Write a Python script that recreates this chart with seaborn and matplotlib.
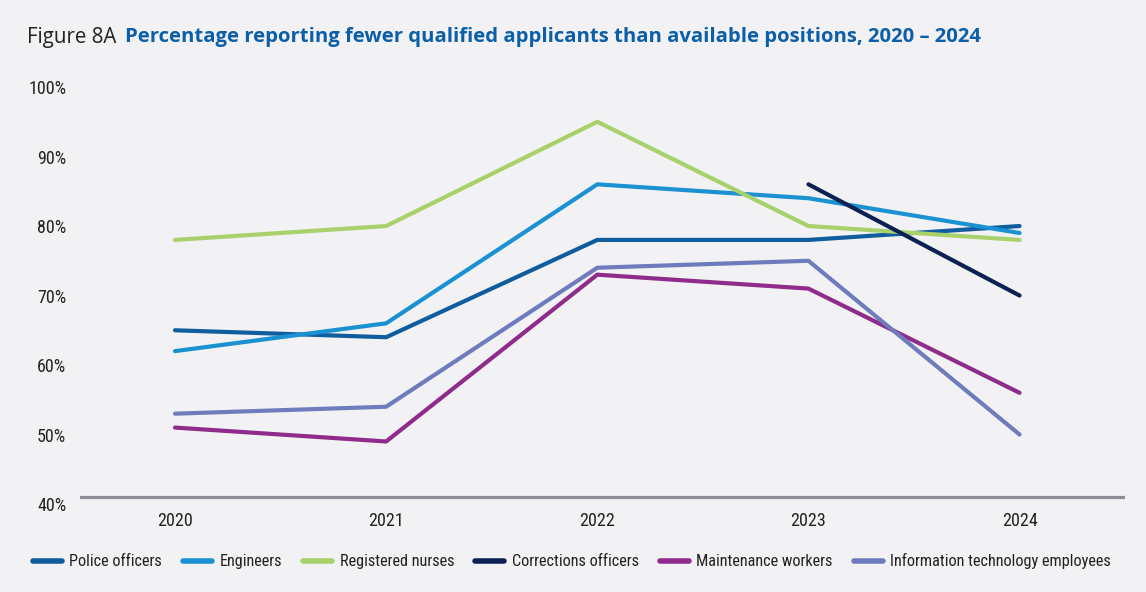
import numpy as np
import pandas as pd
import seaborn as sns
import matplotlib
matplotlib.use('Agg')
import matplotlib.pyplot as plt
from matplotlib import font_manager

# data (percent)
years       = [2020, 2021, 2022, 2023, 2024]
police      = [65, 64, 78, 78, 80]
engineers   = [62, 66, 86, 84, 79]
nurses      = [78, 80, 95, 80, 78]
corrections = [np.nan, np.nan, np.nan, 86, 70]
maintenance = [51, 49, 73, 71, 56]
it_staff    = [53, 54, 74, 75, 50]

series = ['Police officers', 'Engineers', 'Registered nurses',
          'Corrections officers', 'Maintenance workers',
          'Information technology employees']
values = [police, engineers, nurses, corrections, maintenance, it_staff]
colors = ['#0f5d9e', '#1b91d1', '#a9d16b', '#0b2154', '#8f2b8b', '#6e7cbe']
yticks = [40, 50, 60, 70, 80, 90, 100]

bg = '#f2f2f4'

# a narrow face for ticks / legend, if one is around
have = set(f.name for f in font_manager.fontManager.ttflist)
narrow = 'Lato'
for cand in ['Roboto Condensed', 'Liberation Sans Narrow', 'Open Sans Condensed',
             'Noto Sans Condensed', 'Lato']:
  if cand in have:
    narrow = cand
    break

sns.set_theme(style='white')
plt.rcParams['font.family'] = [narrow, 'DejaVu Sans']

rows = []
for name, vals in zip(series, values):
  for yr, v in zip(years, vals):
    rows.append({'Year': yr, 'Pct': v, 'Series': name})
df = pd.DataFrame(rows).dropna()

fig = plt.figure(figsize=(11.46, 5.92), dpi=100, facecolor=bg)
ax = fig.add_axes([0.0698, 0.1486, 0.912, 0.7044], facecolor=bg)

sns.lineplot(data=df, x='Year', y='Pct', hue='Series', hue_order=series,
             palette=dict(zip(series, colors)), linewidth=3.0,
             solid_capstyle='round', ax=ax, legend=True)

ax.set_xlim(2019.55, 2024.5)
ax.set_ylim(40, 100)
ax.axhline(41, color='#8a8d93', linewidth=2.3, zorder=0)
for s in ax.spines.values():
  s.set_visible(False)

ax.set_xticks(years)
ax.set_xticklabels([str(y) for y in years], fontsize=13, color='#222222')
ax.set_yticks(yticks)
ax.set_yticklabels(['{}%'.format(t) for t in yticks], fontsize=13, color='#222222')
ax.tick_params(axis='x', length=0, pad=6)
ax.tick_params(axis='y', length=0, pad=10)
ax.set_xlabel('')
ax.set_ylabel('')

handles, labels = ax.get_legend_handles_labels()
ax.get_legend().remove()
for h in handles:
  h.set_linewidth(4)
leg = fig.legend(handles, labels, loc='center', bbox_to_anchor=(0.499, 0.052),
                 ncol=6, frameon=False, fontsize=13, handlelength=1.8,
                 handletextpad=0.45, columnspacing=1.3, labelcolor='#222222')

# squeeze the legend to the reference width if the face runs wide
fig.canvas.draw()
w = leg.get_window_extent().width
if w > 1090:
  fs = 13 * 1090.0 / w
  leg.remove()
  leg = fig.legend(handles, labels, loc='center', bbox_to_anchor=(0.499, 0.052),
                   ncol=6, frameon=False, fontsize=fs, handlelength=1.8,
                   handletextpad=0.45, columnspacing=1.3, labelcolor='#222222')

# title in two parts
t1 = fig.text(0.0236, 0.9375, 'Figure 8A', fontsize=14.8, color='#222222',
              family=['Open Sans', 'DejaVu Sans'], va='center')
fig.canvas.draw()
bb = t1.get_window_extent()
x2 = (bb.x1 + 9) / fig.bbox.width
fig.text(x2, 0.9375,
         'Percentage reporting fewer qualified applicants than available positions, 2020 \u2013 2024',
         fontsize=14.6, color='#0b5ea8', fontweight='bold',
         family=['Open Sans', 'DejaVu Sans'], va='center')

fig.savefig('out.png', dpi=100, facecolor=bg)
